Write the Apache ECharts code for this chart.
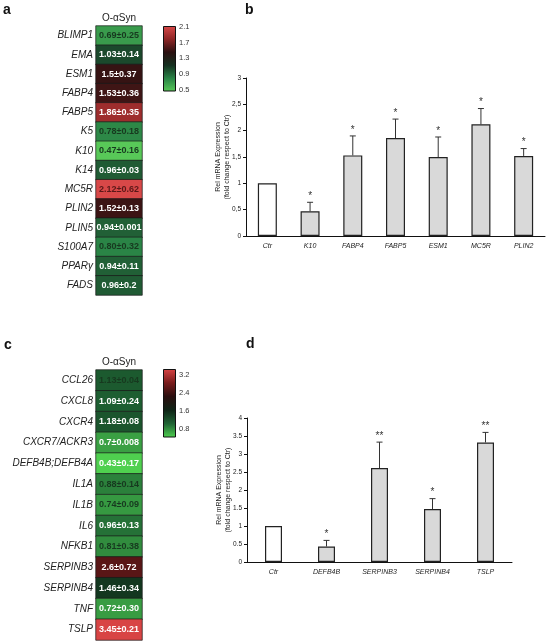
<!DOCTYPE html>
<html>
<head>
<meta charset="utf-8">
<script src="https://cdn.jsdelivr.net/npm/echarts@6/dist/echarts.min.js"></script>
<style>
  html, body { margin: 0; padding: 0; background: #fff; }
  #main { width: 550px; height: 644px; }
</style>
</head>
<body>
<div id="main"></div>
<script>
// panel a - heatmap
const genesA = ['BLIMP1', 'EMA', 'ESM1', 'FABP4', 'FABP5', 'K5', 'K10', 'K14', 'MC5R', 'PLIN2', 'PLIN5', 'S100A7', 'PPARγ', 'FADS'];
const meansA = ['0.69', '1.03', '1.5', '1.53', '1.86', '0.78', '0.47', '0.96', '2.12', '1.52', '0.94', '0.80', '0.94', '0.96'];
const sdsA = ['0.25', '0.14', '0.37', '0.36', '0.35', '0.18', '0.16', '0.03', '0.62', '0.13', '0.001', '0.32', '0.11', '0.2'];
const darkTextA = ['BLIMP1', 'K5', 'K10', 'MC5R', 'S100A7'];
const ticksA = [0.5, 0.9, 1.3, 1.7, 2.1];

// panel b - bars
const catsB = ['Ctr', 'K10', 'FABP4', 'FABP5', 'ESM1', 'MC5R', 'PLIN2'];
const valsB = [1, 0.47, 1.53, 1.86, 1.50, 2.12, 1.52];
const errB = [0, 0.17, 0.37, 0.36, 0.38, 0.30, 0.14];
const starsB = ['', '*', '*', '*', '*', '*', '*'];

// panel c - heatmap
const genesC = ['CCL26', 'CXCL8', 'CXCR4', 'CXCR7/ACKR3', 'DEFB4B;DEFB4A', 'IL1A', 'IL1B', 'IL6', 'NFKB1', 'SERPINB3', 'SERPINB4', 'TNF', 'TSLP'];
const meansC = ['1.13', '1.09', '1.18', '0.7', '0.43', '0.88', '0.74', '0.96', '0.81', '2.6', '1.46', '0.72', '3.45'];
const sdsC = ['0.04', '0.24', '0.08', '0.008', '0.17', '0.14', '0.09', '0.13', '0.38', '0.72', '0.34', '0.30', '0.21'];
const darkTextC = ['CCL26', 'IL1A', 'IL1B', 'NFKB1'];
const ticksC = [0.8, 1.6, 2.4, 3.2];

// panel d - bars
const catsD = ['Ctr', 'DEFB4B', 'SERPINB3', 'SERPINB4', 'TSLP'];
const valsD = [1, 0.43, 2.61, 1.47, 3.32];
const errD = [0, 0.17, 0.72, 0.29, 0.28];
const starsD = ['', '*', '**', '*', '**'];

// green - black - red scales
const colorsA = ['#58c858', '#2a8446', '#153020', '#2a1010', '#8e2626', '#d84848'];
const colorsC = ['#4fd04f', '#1f6434', '#0e2416', '#2a0e0e', '#7a1c1c', '#d84444'];

const FONT = 'Liberation Sans';
const chart = echarts.init(document.getElementById('main'));

function range(arr) {
  const nums = arr.map(Number);
  return [Math.min(...nums), Math.max(...nums)];
}
const [minA, maxA] = range(meansA);
const [minC, maxC] = range(meansC);

function heatData(genes, means, dark, mid) {
  return genes.map((g, i) => {
    const v = Number(means[i]);
    let c = '#fff';
    if (dark.indexOf(g) >= 0) c = v > mid ? '#5a1818' : '#17391f';
    return { value: [0, i, v], label: { color: c } };
  });
}

function gradient(colors) {
  // top = high value (red), bottom = low (green)
  const n = colors.length - 1;
  const stops = colors.slice().reverse().map((c, i) => ({ offset: i / n, color: c }));
  return new echarts.graphic.LinearGradient(0, 0, 0, 1, stops);
}

function heatX(grid) {
  return {
    type: 'category', gridIndex: grid, position: 'top', data: ['O-αSyn'],
    axisLine: { show: false }, axisTick: { show: false },
    axisLabel: { fontSize: 10, margin: 3, color: '#222', fontFamily: FONT }
  };
}
function heatY(grid, genes) {
  return {
    type: 'category', gridIndex: grid, data: genes, inverse: true,
    axisLine: { show: false }, axisTick: { show: false },
    axisLabel: { fontSize: 10, margin: 3, color: '#222', fontStyle: 'italic', fontFamily: FONT }
  };
}
function barX(grid, cats) {
  return {
    type: 'category', gridIndex: grid, data: cats,
    axisLine: { lineStyle: { color: '#111', width: 1 } }, axisTick: { show: false },
    axisLabel: { fontSize: 7, margin: 7, color: '#222', fontStyle: 'italic', fontFamily: FONT }
  };
}
function barY(grid, max, fmt) {
  return {
    type: 'value', gridIndex: grid, min: 0, max: max, interval: 0.5,
    name: 'Rel mRNA Expression\n(fold change respect to Ctr)',
    nameLocation: 'middle', nameGap: 14, nameMoveOverlap: false,
    nameTextStyle: { fontSize: 7, color: '#222', lineHeight: 9, fontFamily: FONT },
    axisLine: { show: true, lineStyle: { color: '#111', width: 1 } },
    axisTick: { show: true, length: 3, lineStyle: { color: '#111' } },
    splitLine: { show: false },
    axisLabel: { fontSize: 6.5, margin: 5, color: '#222', fontFamily: FONT, formatter: fmt }
  };
}
function barAxisPair(grid, min, max, ticks) {
  return [
    { type: 'category', gridIndex: grid, data: [''], show: false },
    {
      type: 'value', gridIndex: grid, min: min, max: max, position: 'right',
      axisLine: { show: false }, axisTick: { show: false }, splitLine: { show: false },
      axisLabel: { customValues: ticks, fontSize: 7.5, margin: 3, color: '#333', fontFamily: FONT }
    }
  ];
}
function errSeries(xi, vals, errs, stars) {
  return {
    type: 'custom', xAxisIndex: xi, yAxisIndex: xi, z: 5,
    data: vals.map((v, i) => [i, v, v + errs[i]]),
    renderItem: function (params, api) {
      const i = params.dataIndex;
      const base = api.coord([api.value(0), api.value(1)]);
      const top = api.coord([api.value(0), api.value(2)]);
      const kids = [];
      if (errs[i] > 0) {
        kids.push({ type: 'line', shape: { x1: base[0], y1: base[1], x2: top[0], y2: top[1] }, style: { stroke: '#333', lineWidth: 1 } });
        kids.push({ type: 'line', shape: { x1: top[0] - 3, y1: top[1], x2: top[0] + 3, y2: top[1] }, style: { stroke: '#333', lineWidth: 1 } });
      }
      if (stars[i]) {
        kids.push({ type: 'text', x: top[0], y: top[1] - 1, style: { text: stars[i], fontSize: 10, fill: '#333', align: 'center', verticalAlign: 'bottom', fontFamily: FONT } });
      }
      return { type: 'group', children: kids };
    }
  };
}
function barSeries(xi, vals, width) {
  return {
    type: 'bar', xAxisIndex: xi, yAxisIndex: xi, barWidth: width,
    data: vals.map((v, i) => i === 0 ? { value: v, itemStyle: { color: '#fff' } } : v),
    itemStyle: { color: '#d9d9d9', borderColor: '#222', borderWidth: 1.2 }
  };
}
function heatSeries(xi, genes, means, sds, dark, mid) {
  return {
    type: 'heatmap', xAxisIndex: xi, yAxisIndex: xi,
    data: heatData(genes, means, dark, mid),
    itemStyle: { borderColor: '#1a1a1a', borderWidth: 0.7 },
    label: { show: true, fontSize: 9, fontWeight: 'bold', fontFamily: FONT, formatter: p => means[p.value[1]] + '±' + sds[p.value[1]] }
  };
}
function colorBar(xi, max, colors) {
  return {
    type: 'bar', xAxisIndex: xi, yAxisIndex: xi, barWidth: '100%', data: [max], clip: true,
    itemStyle: { color: gradient(colors), borderColor: '#111', borderWidth: 1 }
  };
}

const axA = barAxisPair(1, minA, maxA, ticksA);
const axC = barAxisPair(4, minC, maxC, ticksC);
const letter = { fontSize: 14, fontWeight: 'bold', color: '#111', fontFamily: FONT };

const option = {
  backgroundColor: '#fff',
  animation: false,
  title: [
    { text: 'a', left: 3, top: 3, padding: 0, textStyle: letter },
    { text: 'b', left: 245, top: 3, padding: 0, textStyle: letter },
    { text: 'c', left: 4, top: 338, padding: 0, textStyle: letter },
    { text: 'd', left: 246, top: 337, padding: 0, textStyle: letter }
  ],
  grid: [
    { left: 96, top: 26, width: 46, height: 269 },
    { left: 163, top: 26, width: 13, height: 65 },
    { left: 246, top: 78, width: 299, height: 158 },
    { left: 96, top: 370, width: 46, height: 270 },
    { left: 163, top: 369, width: 13, height: 68 },
    { left: 247, top: 418, width: 265, height: 144 }
  ],
  visualMap: [
    { show: false, seriesIndex: 0, min: minA, max: maxA, inRange: { color: colorsA } },
    { show: false, seriesIndex: 4, min: minC, max: maxC, inRange: { color: colorsC } }
  ],
  xAxis: [heatX(0), axA[0], barX(2, catsB), heatX(3), axC[0], barX(5, catsD)],
  yAxis: [
    heatY(0, genesA), axA[1],
    barY(2, 3, v => String(v).replace('.', ',')),
    heatY(3, genesC), axC[1],
    barY(5, 4, v => String(v))
  ],
  series: [
    heatSeries(0, genesA, meansA, sdsA, darkTextA, (minA + maxA) / 2),
    colorBar(1, maxA, colorsA),
    barSeries(2, valsB, 19),
    errSeries(2, valsB, errB, starsB),
    heatSeries(3, genesC, meansC, sdsC, darkTextC, (minC + maxC) / 2),
    colorBar(4, maxC, colorsC),
    barSeries(5, valsD, 17),
    errSeries(5, valsD, errD, starsD)
  ]
};

chart.setOption(option);
</script>
</body>
</html>
